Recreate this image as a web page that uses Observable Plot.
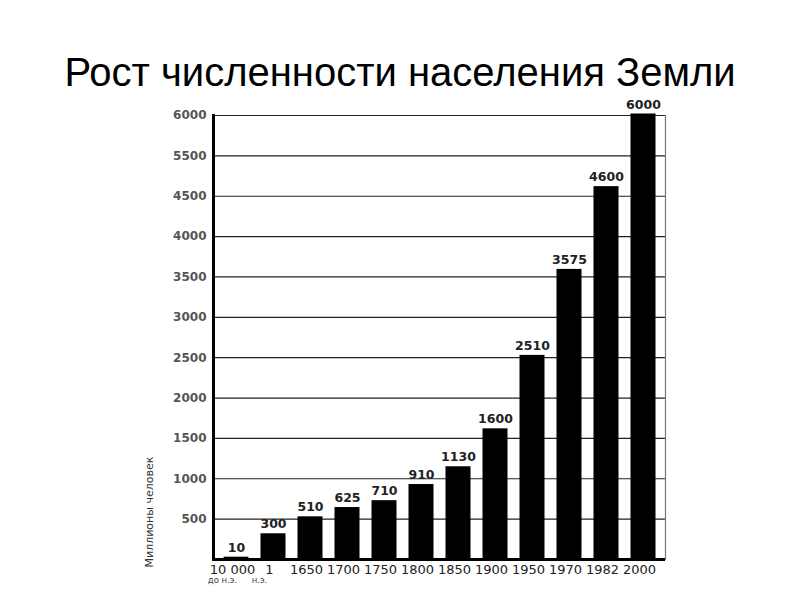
<!DOCTYPE html>
<html>
<head>
<meta charset="utf-8">
<script src="https://cdn.jsdelivr.net/npm/d3@7"></script>
<script src="https://cdn.jsdelivr.net/npm/@observablehq/plot@0.6"></script>
<style>
  html, body { margin: 0; padding: 0; background: #fff; }
  #wrap { width: 800px; height: 600px; overflow: hidden; }
  #title {
    height: 95px; box-sizing: border-box; padding-top: 50px;
    font-family: "Liberation Sans", Arial, sans-serif; font-size: 40px;
    line-height: 44px; text-align: center; color: #000; white-space: nowrap;
  }
</style>
</head>
<body>
<div id="wrap">
  <div id="title">Рост численности населения Земли</div>
  <div id="chart"></div>
</div>
<script>
const years = ["10 000 до н.э.", "1 н.э.", "1650", "1700", "1750", "1800", "1850", "1900", "1950", "1970", "1982", "2000"];
const yearLine1 = ["10 000", "1", "1650", "1700", "1750", "1800", "1850", "1900", "1950", "1970", "1982", "2000"];
const yearLine2 = ["до н.э.", "н.э.", "", "", "", "", "", "", "", "", "", ""];
const population = [10, 300, 510, 625, 710, 910, 1130, 1600, 2510, 3575, 4600, 6000];
const yTicks = [500, 1000, 1500, 2000, 2500, 3000, 3500, 4000, 4500, 5000, 5500];
const yTickLabels = ["500", "1000", "1500", "2000", "2500", "3000", "3500", "4000", "4500", "5500", "6000"];
const yAxisTitle = "Миллионы человек";

const rows = years.map((y, i) => ({year: y, value: population[i], l1: yearLine1[i], l2: yearLine2[i]}));
const tickLabel = new Map(yTicks.map((t, i) => [t, yTickLabels[i]]));

const chart = Plot.plot({
  width: 800,
  height: 505,
  marginTop: 20,
  marginBottom: 41,
  marginLeft: 213,
  marginRight: 135,
  style: {fontFamily: "DejaVu Sans, sans-serif", background: "#fff"},
  x: {domain: years, paddingInner: 0.415, paddingOuter: 0.2175, axis: null},
  y: {domain: [0, 5500], clamp: true, axis: null},
  marks: [
    Plot.gridY(yTicks, {stroke: "#222", strokeOpacity: 1, strokeWidth: 1.2}),
    Plot.frame({anchor: "right", stroke: "#777", strokeWidth: 1.2}),
    Plot.axisY(yTicks, {
      tickSize: 0, tickPadding: 7, tickFormat: d => tickLabel.get(d),
      fontSize: 12, fontWeight: "bold", fill: "#555", label: null
    }),
    Plot.barY(rows, {x: "year", y: "value", fill: "#000", stroke: "#000", strokeWidth: 3}),
    Plot.text(rows, {x: "year", y: "value", text: d => String(d.value), dy: -7, lineAnchor: "bottom",
      fontSize: 12.5, fontWeight: "bold", fill: "#222"}),
    Plot.ruleY([0], {stroke: "#000", strokeWidth: 3}),
    Plot.frame({anchor: "left", stroke: "#000", strokeWidth: 3}),
    Plot.text(rows, {x: "year", text: "l1", frameAnchor: "bottom", dy: 10, dx: -4, lineAnchor: "middle",
      fontSize: 13, fill: "#222"}),
    Plot.text(rows, {x: "year", text: "l2", frameAnchor: "bottom", dy: 21, dx: -14, lineAnchor: "middle",
      fontSize: 8.5, fill: "#444"}),
    Plot.text([yAxisTitle], {frameAnchor: "bottom-left", rotate: -90, textAnchor: "start",
      dx: -61, dy: 8, fontSize: 11, fill: "#333"})
  ]
});
document.getElementById("chart").appendChild(chart);
</script>
</body>
</html>
